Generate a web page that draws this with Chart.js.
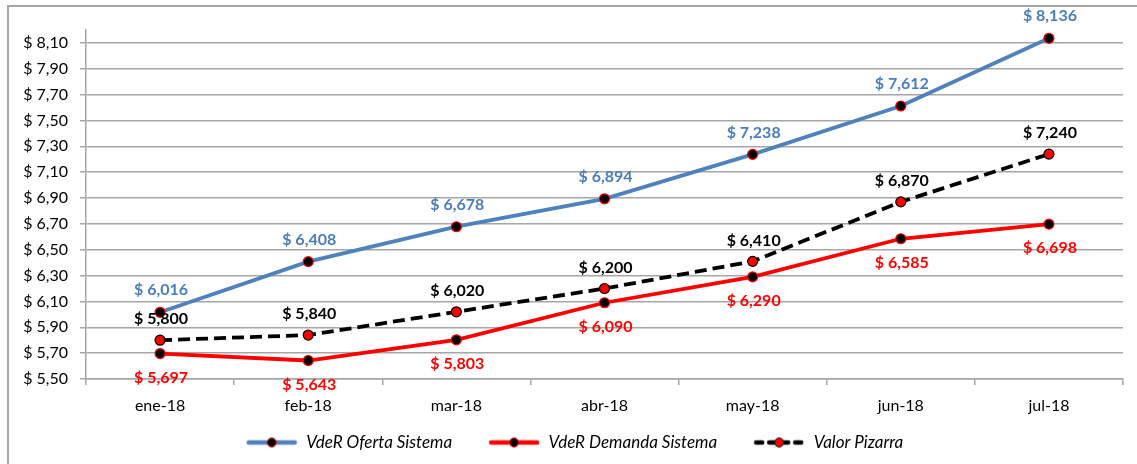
<!DOCTYPE html>
<html lang="es">
<head>
  <meta charset="UTF-8" />
  <title>VdeR</title>
  <style>
    body { margin: 0; background: #fff; }
    #wrap { position: relative; width: 1137px; height: 464px; overflow: hidden; }
    #frame { position: absolute; left: 7px; top: 5px; width: 1200px; height: 500px;
             border-left: 2px solid #a6a6a6; border-top: 2px solid #a6a6a6; pointer-events: none; }
    canvas { position: absolute; left: 0; top: 0; }
  </style>
</head>
<body>
  <div id="wrap">
    <canvas id="myChart" width="1137" height="464"></canvas>
    <div id="frame"></div>
  </div>
  <script src="https://cdn.jsdelivr.net/npm/chart.js"></script>
  <script>
    const meses = ['ene-18', 'feb-18', 'mar-18', 'abr-18', 'may-18', 'jun-18', 'jul-18'];
    const ofertaSistema = [6.016, 6.408, 6.678, 6.894, 7.238, 7.612, 8.136];
    const demandaSistema = [5.697, 5.643, 5.803, 6.090, 6.290, 6.585, 6.698];
    const valorPizarra = [5.800, 5.840, 6.020, 6.200, 6.410, 6.870, 7.240];
    const yTicks = [5.5, 5.7, 5.9, 6.1, 6.3, 6.5, 6.7, 6.9, 7.1, 7.3, 7.5, 7.7, 7.9, 8.1];
    const yMin = 5.5, yMax = 8.2;

    const AZUL = '#4f81bd';
    const ROJO = '#ff0000';

    const fmt = (v, d) => '$ ' + v.toFixed(d).replace('.', ',');

    // muestra de leyenda: linea + marcador (con margen izquierdo para separar items)
    const MARGEN = 26;
    function muestra(color, dash, fill, stroke) {
      const c = document.createElement('canvas');
      c.width = 52 + MARGEN; c.height = 14;
      const g = c.getContext('2d');
      g.translate(MARGEN, 0);
      g.strokeStyle = color;
      g.lineWidth = 4.5;
      g.lineCap = 'round';
      if (dash) g.setLineDash([6, 7]);
      g.beginPath(); g.moveTo(3, 7); g.lineTo(49, 7); g.stroke();
      g.setLineDash([]);
      g.beginPath(); g.arc(26, 7, 4.5, 0, Math.PI * 2);
      g.fillStyle = fill; g.fill();
      g.lineWidth = 1; g.strokeStyle = stroke; g.stroke();
      return c;
    }

    const etiquetas = {
      id: 'etiquetas',
      afterDatasetsDraw(chart) {
        const ctx = chart.ctx;
        ctx.save();
        ctx.font = 'bold 16px Lato';
        ctx.textAlign = 'center';
        ctx.textBaseline = 'middle';
        chart.data.datasets.forEach((ds, i) => {
          const meta = chart.getDatasetMeta(i);
          meta.data.forEach((p, j) => {
            ctx.fillStyle = ds.labelColor;
            ctx.fillText(fmt(ds.data[j], 3), p.x + 1, p.y + ds.labelOffset);
          });
        });
        ctx.restore();
      }
    };

    Chart.defaults.font.family = 'Lato';
    Chart.defaults.font.size = 16;
    Chart.defaults.color = '#000';

    const ctx = document.getElementById('myChart').getContext('2d');
    new Chart(ctx, {
      type: 'line',
      data: {
        labels: meses,
        datasets: [
          {
            label: 'VdeR Oferta Sistema', data: ofertaSistema,
            borderColor: AZUL, borderWidth: 3.8,
            pointBackgroundColor: '#000', pointBorderColor: ROJO, pointBorderWidth: 1.2,
            labelColor: '#4a7ebb', labelOffset: -22,
            legendImg: muestra(AZUL, false, '#000', ROJO)
          },
          {
            label: 'VdeR Demanda Sistema', data: demandaSistema,
            borderColor: ROJO, borderWidth: 3.8,
            pointBackgroundColor: '#000', pointBorderColor: ROJO, pointBorderWidth: 1.2,
            labelColor: ROJO, labelOffset: 24,
            legendImg: muestra(ROJO, false, '#000', ROJO)
          },
          {
            label: 'Valor Pizarra', data: valorPizarra,
            borderColor: '#000', borderWidth: 3.8, borderDash: [12, 6],
            pointBackgroundColor: ROJO, pointBorderColor: '#000', pointBorderWidth: 1.2,
            labelColor: '#000', labelOffset: -21,
            legendImg: muestra('#000', true, ROJO, '#000')
          }
        ]
      },
      options: {
        responsive: false,
        animation: false,
        layout: { padding: { top: 30, right: 14, bottom: 3, left: 0 } },
        elements: {
          line: { tension: 0, fill: false },
          point: { radius: 5 }
        },
        scales: {
          x: {
            offset: true,
            grid: { offset: true, drawOnChartArea: false, color: '#a6a6a6', lineWidth: 1.5, tickLength: 6 },
            border: { color: '#a6a6a6', width: 1.5 },
            ticks: { padding: 11, font: { size: 16 } },
            afterFit: s => { s.height = 45; }
          },
          y: {
            min: yMin, max: yMax,
            ticks: {
              padding: 12, font: { size: 16 },
              callback: v => fmt(v, 2)
            },
            afterBuildTicks: s => {
              s.ticks = yTicks.map(v => ({ value: v }));
            },
            grid: { color: '#a6a6a6', lineWidth: 1.5, tickLength: 6 },
            border: { color: '#a6a6a6', width: 1.5 },
            afterFit: s => { s.width = 86; }
          }
        },
        plugins: {
          tooltip: { enabled: false },
          legend: {
            position: 'bottom',
            labels: {
              usePointStyle: true,
              pointStyleWidth: 52 + MARGEN,
              boxHeight: 14,
              padding: 10,
              font: { size: 17, style: 'italic' },
              generateLabels: chart => chart.data.datasets.map((ds, i) => ({
                text: ds.label,
                pointStyle: ds.legendImg,
                fillStyle: ds.borderColor,
                strokeStyle: ds.borderColor,
                lineWidth: 0,
                hidden: false,
                datasetIndex: i
              }))
            }
          }
        }
      },
      plugins: [etiquetas]
    });
  </script>
</body>
</html>
